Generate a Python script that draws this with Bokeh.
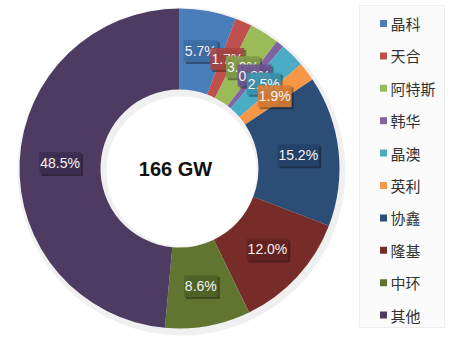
import math
from bokeh.plotting import figure
from bokeh.models import Range1d, ColumnDataSource
from bokeh.core.properties import value
from bokeh.embed import file_html
from bokeh.resources import INLINE

# ---- data ----
companies = ["晶科", "天合", "阿特斯", "韩华", "晶澳", "英利", "协鑫", "隆基", "中环", "其他"]
shares = [5.7, 1.7, 3.0, 0.8, 2.5, 1.9, 15.2, 12.0, 8.6, 48.5]
colors = ["#4a7ebb", "#c0504d", "#9bbb59", "#8064a2", "#4bacc6",
          "#f79646", "#2c4d75", "#772c2a", "#5f7530", "#4d3b62"]
label_bg = ["#3f6ea8", "#a84542", "#7f9c47", "#6a5290", "#3b93ad",
            "#d97c33", "#26436a", "#662422", "#506528", "#3e2f52"]
total_text = "166 GW"

W, H = 456, 353
CX, CY = 179, H - 168
R_OUT, R_IN = 160, 79
R_LAB = (R_OUT + R_IN) / 2

total = sum(shares)
starts, ends, lx, ly, labels = [], [], [], [], []
cum = 0.0
for s in shares:
    a0 = math.pi / 2 - 2 * math.pi * cum / total
    a1 = math.pi / 2 - 2 * math.pi * (cum + s) / total
    mid = (a0 + a1) / 2
    starts.append(a0)
    ends.append(a1)
    lx.append(CX + R_LAB * math.cos(mid))
    ly.append(CY + R_LAB * math.sin(mid))
    labels.append(f"{s:.1f}%")
    cum += s

src = ColumnDataSource(dict(start=starts, end=ends, color=colors, bg=label_bg,
                            lx=lx, ly=ly, label=labels))

p = figure(width=W, height=H, output_backend="svg", toolbar_location=None,
           x_range=Range1d(0, W), y_range=Range1d(0, H), min_border=0,
           outline_line_color=None, background_fill_color="white")
p.axis.visible = False
p.grid.visible = False

# faint shadow around the ring
p.annulus(x=CX + 2, y=CY - 3, inner_radius=R_IN - 4, outer_radius=R_OUT + 4,
          fill_color="#000000", fill_alpha=0.06, line_color=None)

p.annular_wedge(x=CX, y=CY, inner_radius=R_IN, outer_radius=R_OUT,
                start_angle="start", end_angle="end", direction="clock",
                fill_color="color", line_color=None, source=src)

# label shadows
p.text(x="lx", y="ly", text="label", source=src, text_align="center",
       text_baseline="middle", text_font=value("Liberation Sans"),
       text_font_size="14px", text_alpha=0, x_offset=2, y_offset=2,
       background_fill_color="#000000", background_fill_alpha=0.35, padding=[1, 3])
# labels
p.text(x="lx", y="ly", text="label", source=src, text_align="center",
       text_baseline="middle", text_font=value("Liberation Sans"),
       text_font_size="14px", text_color="#f4f4f4",
       background_fill_color="bg", background_fill_alpha=0.9, padding=[1, 3])

# centre text
p.text(x=[CX - 4], y=[CY], text=[total_text], text_align="center",
       text_baseline="middle", text_font=value("Liberation Sans"),
       text_font_style="bold", text_font_size="20px", text_color="#111111")

# legend
p.quad(left=[359], right=[444], bottom=[H - 327], top=[H - 5],
       fill_color="#fbfbfb", line_color="#eeeeee")
leg_y = [H - (23 + i * 32.4) for i in range(len(companies))]
p.scatter(x=[383] * len(companies), y=leg_y, marker="square", size=7,
          fill_color=colors, line_color=None)
p.text(x=[390] * len(companies), y=leg_y, text=companies,
       text_baseline="middle", text_align="left",
       text_font=value("Noto Sans CJK SC"), text_font_size="15px",
       text_color="#333333")

open("out.html", "w").write(file_html(p, INLINE))
